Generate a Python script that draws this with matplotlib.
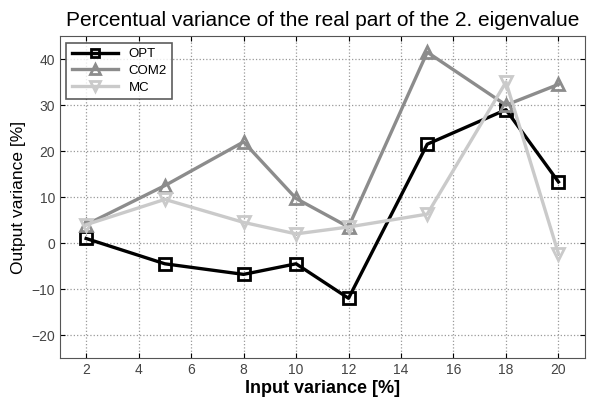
import matplotlib
matplotlib.use('Agg')
import matplotlib.pyplot as plt

plt.rcParams['font.family'] = ['Liberation Sans', 'DejaVu Sans']

x = [2, 5, 8, 10, 12, 15, 18, 20]
opt = [1, -4.5, -6.8, -4.5, -12, 21.5, 29, 13.3]
com2 = [4, 12.5, 22, 9.7, 3.5, 41.5, 30, 34.5]
mc = [4, 9.5, 4.5, 2, 3.5, 6.3, 35, -2.3]

fig = plt.figure(figsize=(5.93, 4.01), dpi=100)
ax = fig.add_axes([0.101, 0.107, 0.885, 0.803])

ax.plot(x, opt, color='black', lw=2.4, marker='s', ms=8, mfc='none', mew=2, label='OPT')
ax.plot(x, com2, color='#8c8c8c', lw=2.4, marker='^', ms=9, mfc='none', mew=2, label='COM2')
ax.plot(x, mc, color='#cacaca', lw=2.4, marker='v', ms=9, mfc='none', mew=2, label='MC')

ax.set_xlim(1, 21)
ax.set_ylim(-25, 45)
ax.set_xticks(range(2, 21, 2))
ax.set_yticks(range(-20, 41, 10))
ax.grid(True, linestyle=':', color='#999999', lw=0.9)
ax.tick_params(direction='in', top=True, right=True, labelsize=10, labelcolor='#444444')
for s in ax.spines.values():
    s.set_color('#555555')

ax.set_title('Percentual variance of the real part of the 2. eigenvalue', fontsize=15, pad=7)
ax.set_xlabel('Input variance [%]', fontsize=13, fontweight='bold', labelpad=2)
ax.set_ylabel('Output variance [%]', fontsize=12.5, labelpad=4)

leg = ax.legend(loc='upper left', fontsize=9.5, fancybox=False, edgecolor='#333333',
                handlelength=3.5, labelspacing=0.35, markerscale=0.75, borderaxespad=0.5)
leg.get_frame().set_linewidth(1.2)

fig.savefig('out.png')
